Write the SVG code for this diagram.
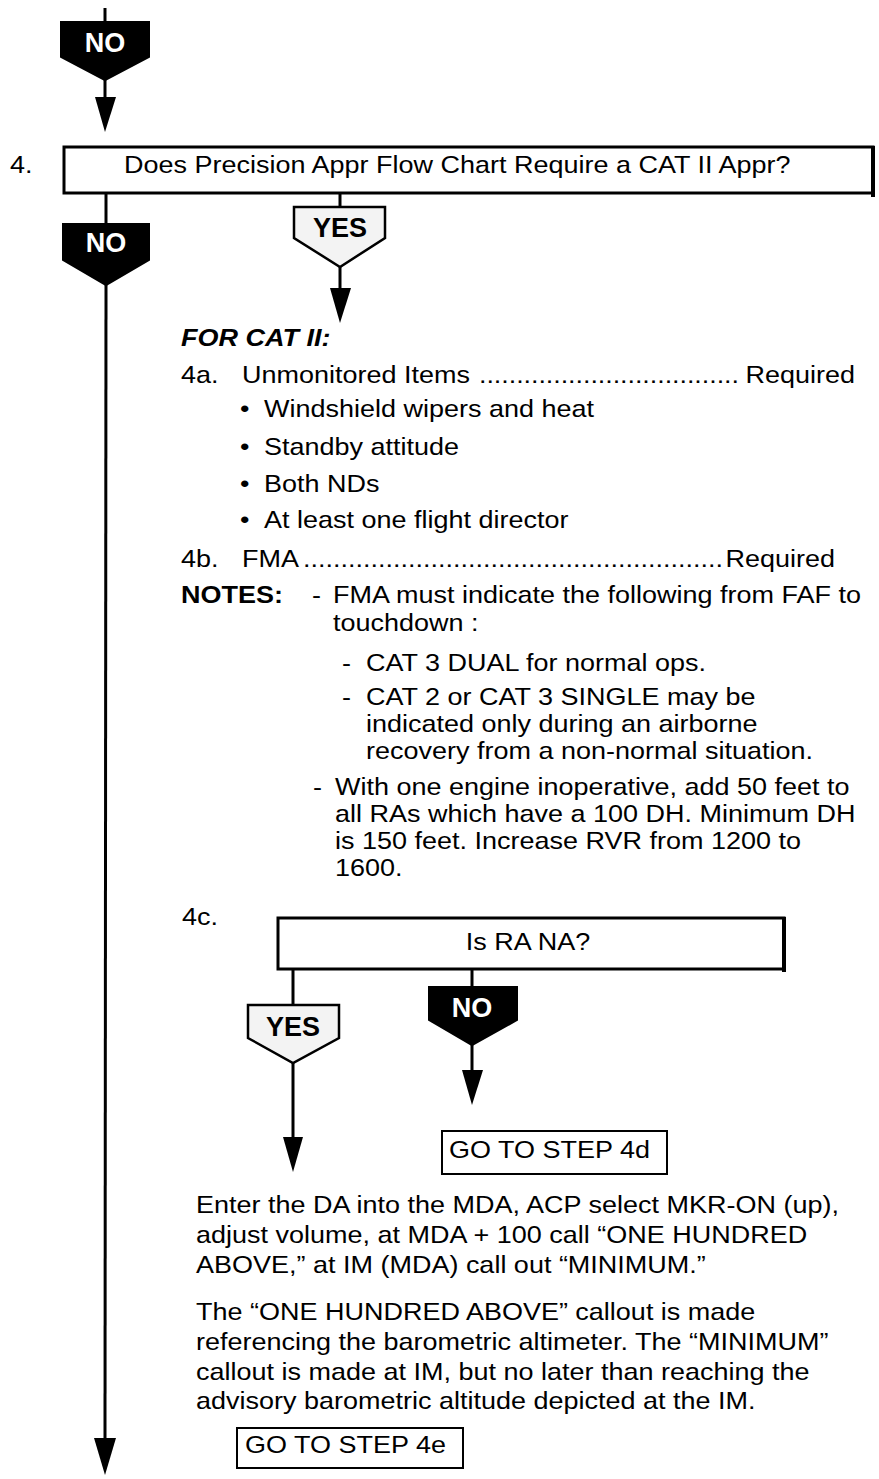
<svg xmlns="http://www.w3.org/2000/svg" width="879" height="1479" viewBox="0 0 879 1479">
<style>
  text { font-family: "Liberation Sans", Arial, sans-serif; font-size: 24px; fill: #000; }
  .lbl { font-size: 27px; font-weight: bold; }
  .b { font-weight: bold; }
  .bi { font-weight: bold; font-style: italic; }
  .w { fill: #fff; }
  .mid { text-anchor: middle; }
  .end { text-anchor: end; }
  .box { fill: #fff; stroke: #000; stroke-width: 3; }
  .sbox { fill: #fff; stroke: #000; stroke-width: 2; }
  .no { fill: #000; stroke: #000; stroke-width: 2; }
  .yes { fill: #f3f3f3; stroke: #000; stroke-width: 2.5; }
  .ln { stroke: #000; stroke-width: 3; fill: none; }
  .edge { stroke: #000; stroke-width: 4; fill: none; }
  .ah { fill: #000; }
</style>

<g id="connectors">
  <line class="ln" x1="105" y1="8" x2="105" y2="24"/>
  <line class="ln" x1="105" y1="80" x2="105" y2="100"/>
  <polygon class="ah" points="95,97 116,97 105,132"/>
  <line class="ln" x1="106" y1="193" x2="106" y2="226"/>
  <line class="ln" x1="106" y1="285" x2="105" y2="1440"/>
  <polygon class="ah" points="94,1438 116,1438 105,1475"/>
  <line class="ln" x1="340" y1="193" x2="340" y2="209"/>
  <line class="ln" x1="340" y1="267" x2="340" y2="291"/>
  <polygon class="ah" points="330,288 351,288 340,323"/>
  <line class="ln" x1="293" y1="969" x2="293" y2="1007"/>
  <line class="ln" x1="293" y1="1063" x2="293" y2="1140"/>
  <polygon class="ah" points="283,1137 303,1137 293,1172"/>
  <line class="ln" x1="472" y1="969" x2="472" y2="989"/>
  <line class="ln" x1="472" y1="1045" x2="472" y2="1073"/>
  <polygon class="ah" points="462,1070 483,1070 472,1105"/>
</g>

<g id="no-top">
  <polygon class="no" points="61,22 149,22 149,57 105,80 61,57"/>
  <text class="lbl w mid" x="105" y="52">NO</text>
</g>

<g id="step4">
  <rect class="box" x="64" y="147" width="809" height="46"/>
  <line class="edge" x1="873" y1="146" x2="873" y2="197"/>
  <g transform="scale(1.125,1)">
    <text x="8.89" y="173">4.</text>
    <text x="110.22" y="173">Does Precision Appr Flow Chart Require a CAT II Appr?</text>
  </g>
</g>

<g id="no-step4">
  <polygon class="no" points="63,224 149,224 149,260 106,285 63,260"/>
  <text class="lbl w mid" x="106" y="252">NO</text>
</g>

<g id="yes-step4">
  <polygon class="yes" points="294,207 385,207 385,238 340,267 294,238"/>
  <text class="lbl mid" x="340" y="237">YES</text>
</g>

<g id="cat2" transform="scale(1.125,1)">
  <text class="bi" x="160.89" y="346">FOR CAT II:</text>
  <text x="160.89" y="383">4a.</text>
  <text x="215.11" y="383">Unmonitored Items</text>
  <text x="425.78" y="383" textLength="231.1" lengthAdjust="spacing">...................................</text>
  <text class="end" x="760" y="383">Required</text>
  <text x="213.33" y="417">•</text>
  <text x="234.67" y="417">Windshield wipers and heat</text>
  <text x="213.33" y="455">•</text>
  <text x="234.67" y="455">Standby attitude</text>
  <text x="213.33" y="492">•</text>
  <text x="234.67" y="492">Both NDs</text>
  <text x="213.33" y="528">•</text>
  <text x="234.67" y="528">At least one flight director</text>
  <text x="160.89" y="567">4b.</text>
  <text x="215.11" y="567">FMA</text>
  <text x="269.33" y="567" textLength="373.33" lengthAdjust="spacing">........................................................</text>
  <text class="end" x="742.22" y="567">Required</text>
  <text class="b" x="160.89" y="603">NOTES:</text>
  <text x="277.33" y="603">-</text>
  <text x="296" y="603">FMA must indicate the following from FAF to</text>
  <text x="296" y="631">touchdown :</text>
  <text x="304" y="671">-</text>
  <text x="325.33" y="671">CAT 3 DUAL for normal ops.</text>
  <text x="304" y="705">-</text>
  <text x="325.33" y="705">CAT 2 or CAT 3 SINGLE may be</text>
  <text x="325.33" y="732">indicated only during an airborne</text>
  <text x="325.33" y="759">recovery from a non-normal situation.</text>
  <text x="278.22" y="795">-</text>
  <text x="297.78" y="795">With one engine inoperative, add 50 feet to</text>
  <text x="297.78" y="822">all RAs which have a 100 DH. Minimum DH</text>
  <text x="297.78" y="849">is 150 feet. Increase RVR from 1200 to</text>
  <text x="297.78" y="876">1600.</text>
</g>

<g id="step4c">
  <rect class="box" x="278" y="918" width="506" height="51"/>
  <line class="edge" x1="784" y1="917" x2="784" y2="972"/>
  <g transform="scale(1.125,1)">
    <text x="161.78" y="925">4c.</text>
    <text class="mid" x="469.33" y="950">Is RA NA?</text>
  </g>
</g>

<g id="yes-4c">
  <polygon class="yes" points="248,1005 339,1005 339,1038 293,1063 248,1038"/>
  <text class="lbl mid" x="293" y="1036">YES</text>
</g>

<g id="no-4c">
  <polygon class="no" points="429,987 517,987 517,1020 472,1045 429,1020"/>
  <text class="lbl w mid" x="472" y="1017">NO</text>
</g>

<g id="goto-4d">
  <rect class="sbox" x="442" y="1131" width="225" height="43"/>
  <text transform="scale(1.125,1)" x="399.11" y="1158">GO TO STEP 4d</text>
</g>

<g id="yes-text" transform="scale(1.125,1)">
  <text x="174.22" y="1213">Enter the DA into the MDA, ACP select MKR-ON (up),</text>
  <text x="174.22" y="1243">adjust volume, at MDA + 100 call “ONE HUNDRED</text>
  <text x="174.22" y="1273">ABOVE,” at IM (MDA) call out “MINIMUM.”</text>
  <text x="174.22" y="1320">The “ONE HUNDRED ABOVE” callout is made</text>
  <text x="174.22" y="1350">referencing the barometric altimeter. The “MINIMUM”</text>
  <text x="174.22" y="1380">callout is made at IM, but no later than reaching the</text>
  <text x="174.22" y="1409">advisory barometric altitude depicted at the IM.</text>
</g>

<g id="goto-4e">
  <rect class="sbox" x="237" y="1428" width="226" height="40"/>
  <text transform="scale(1.125,1)" x="217.78" y="1453">GO TO STEP 4e</text>
</g>
</svg>
